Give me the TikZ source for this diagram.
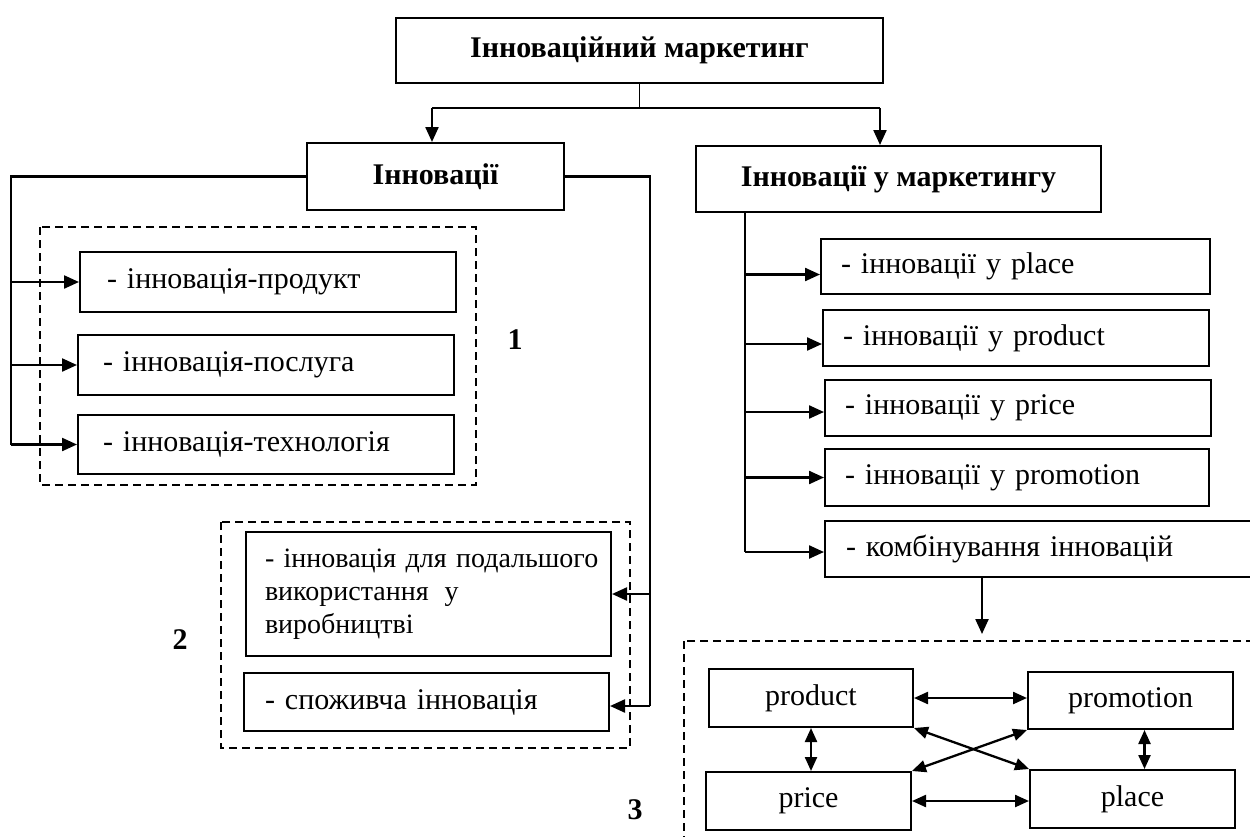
\documentclass[tikz,border=0pt]{standalone}
\usepackage{fontspec}
\setmainfont{Liberation Serif}
\usetikzlibrary{arrows.meta}
\begin{document}
\begin{tikzpicture}[x=1pt,y=-1pt,
  every node/.style={font=\fontsize{30}{33}\selectfont},
  box/.style={draw, line width=2pt, anchor=north west, inner sep=0pt},
  item/.style={box, align=left},
  title/.style={box, font=\fontsize{30}{33}\selectfont\bfseries, align=center},
  link/.style={line width=2.3pt},
  arr/.style={link, -{Triangle[length=15pt,width=13pt]}},
  dbl/.style={link, {Triangle[length=14pt,width=12pt]}-{Triangle[length=14pt,width=12pt]}},
  group/.style={line width=1.6pt, dash pattern=on 8pt off 5pt},
  num/.style={font=\fontsize{30}{33}\selectfont\bfseries}
]
\useasboundingbox (0,0) rectangle (1250,836);

% headings
\node[title, minimum width=487pt, minimum height=65pt] (T) at (395,17) {Інноваційний маркетинг};
\node[title, minimum width=257pt, minimum height=67pt] (L) at (306,142) {Інновації};
\node[title, minimum width=405pt, minimum height=66pt] (R) at (695,145) {Інновації у маркетингу};

% group 1: kinds of innovation
\draw[group] (40,227) rectangle (476,485);
\node[item, inner xsep=27pt, text width=322pt, minimum height=60pt] (a1) at (79,251) {- інновація-продукт};
\node[item, inner xsep=25pt, text width=326pt, minimum height=60pt] (a2) at (77,334) {- інновація-послуга};
\node[item, inner xsep=25pt, text width=326pt, minimum height=59pt] (a3) at (77,414) {- інновація-технологія};
\node[num] (n1) at (515,340) {1};

% group 2: purpose of innovation
\draw[group] (221,522) rectangle (630,748);
\node[item, inner xsep=19pt, text width=327pt, minimum height=124pt,
      font=\fontsize{28}{33}\selectfont] (b1) at (245,531)
      {\mbox{- інновація для подальшого}\\використання\hspace{16pt}у\\виробництві};
\node[item, inner xsep=21pt, text width=323pt, minimum height=58pt] (b2) at (243,672) {- споживча інновація};
\node[num] (n2) at (180,640) {2};

% innovations in the marketing mix
\node[item, inner xsep=20pt, text width=349pt, minimum height=55pt] (c1) at (820,238) {- інновації у place};
\node[item, inner xsep=20pt, text width=346pt, minimum height=56pt] (c2) at (822,309) {- інновації у product};
\node[item, inner xsep=20pt, text width=346pt, minimum height=56pt] (c3) at (824,379) {- інновації у price};
\node[item, inner xsep=20pt, text width=344pt, minimum height=57pt] (c4) at (824,448) {- інновації у promotion};
\node[item, inner xsep=21pt, text width=408pt, minimum height=56pt] (c5) at (824,520) {- комбінування інновацій};

% group 3: the 4P
\draw[group] (684,641) rectangle (1270,860);
\node[box, minimum width=204pt, minimum height=58pt] (prod) at (708,668) {product};
\node[box, minimum width=205pt, minimum height=57pt] (promo) at (1027,671) {promotion};
\node[box, minimum width=205pt, minimum height=58pt] (price) at (705,771) {price};
\node[box, minimum width=205pt, minimum height=58pt] (place) at (1029,769) {place};
\node[num] (n3) at (635,810) {3};

% top split
\coordinate (jl) at (432,108);
\coordinate (jr) at (880,108);
\draw[line width=1.6pt] (T.south) -- (T.south |- jl);
\draw[link] (jl) -- (jr);
\draw[arr] (jl) -- (jl |- L.north);
\draw[arr] (jr) -- (jr |- R.north);

% left bus
\coordinate (lbus) at (11,443);
\draw[link] (L.west) -| (lbus |- a3.west);
\draw[arr] (lbus |- a1.west) -- (a1.west);
\draw[arr] (lbus |- a2.west) -- (a2.west);
\draw[arr] (lbus |- a3.west) -- (a3.west);

% right bus of the innovations box
\coordinate (rbus) at (650,697);
\draw[link] (L.east) -| ([yshift=-4pt]rbus |- b2.east);
\draw[arr] (rbus |- b1.east) -- (b1.east);
\draw[arr] ([yshift=-4pt]rbus |- b2.east) -- ([yshift=-4pt]b2.east);

% bus of the marketing-mix box
\coordinate (mbus) at (745,551);
\draw[link] (R.south -| mbus) -- ([yshift=-3pt]c5.west -| mbus);
\draw[arr] ([yshift=-8pt]c1.west -| mbus) -- ([yshift=-8pt]c1.west);
\draw[arr] ([yshift=-6pt]c2.west -| mbus) -- ([yshift=-6pt]c2.west);
\draw[arr] ([yshift=-4pt]c3.west -| mbus) -- ([yshift=-4pt]c3.west);
\draw[arr] (c4.west -| mbus) -- (c4.west);
\draw[arr] ([yshift=-3pt]c5.west -| mbus) -- ([yshift=-3pt]c5.west);

% down into the 4P group
\coordinate (into3) at (982,634);
\draw[arr] (c5.south -| into3) -- (into3);

% links between the 4P
\draw[dbl] (prod.east) -- (prod.east -| promo.west);
\draw[dbl] (prod.south) -- (prod.south |- price.north);
\draw[dbl] ([xshift=14pt]promo.south) -- ([xshift=14pt]promo.south |- place.north);
\draw[dbl] (price.east) -- (price.east -| place.west);
\draw[dbl] (prod.south east) -- (place.north west);
\draw[dbl] (price.north east) -- (promo.south west);
\end{tikzpicture}
\end{document}
